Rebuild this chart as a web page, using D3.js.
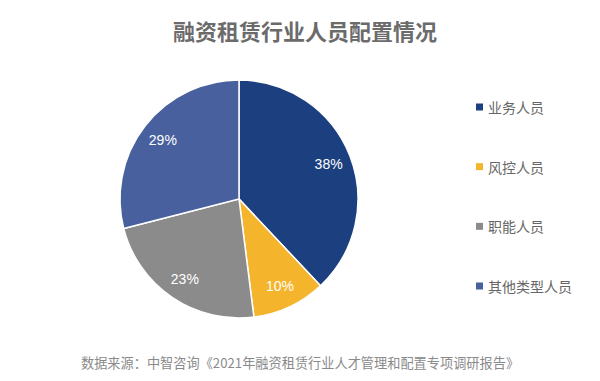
<!DOCTYPE html>
<html>
<head>
<meta charset="utf-8">
<script src="https://cdn.jsdelivr.net/npm/d3@7"></script>
<style>
	body { margin: 0; background: #fff; }
	svg { display: block; font-family: "Noto Sans CJK SC", "Noto Sans", sans-serif; }
</style>
</head>
<body>
<svg id="chart" width="600" height="381"></svg>
<script>
// Data
const categories = ['业务人员', '风控人员', '职能人员', '其他类型人员']
const shares = [38, 10, 23, 29]
const colors = ['#1c3f7f', '#f4b42c', '#8b8b8b', '#48619e']

const title = '融资租赁行业人员配置情况'
const source = '数据来源：中智咨询《2021年融资租赁行业人才管理和配置专项调研报告》'

;(function() {
	let svg = d3.select('#chart')
	const cx = 239, cy = 199, radius = 119

	// Title
	svg.append('text')
		.attr('x', 305)
		.attr('y', 40)
		.attr('text-anchor', 'middle')
		.attr('font-size', 22)
		.attr('font-weight', 'bold')
		.attr('fill', '#6b6b6b')
		.text(title)

	// Pie
	let pie = d3.pie().sort(null).value(d => d)
	let arcs = pie(shares)
	let arc = d3.arc().innerRadius(0).outerRadius(radius)
	let labelArc = d3.arc().innerRadius(radius * 0.81).outerRadius(radius * 0.81)

	let g = svg.append('g').attr('transform', `translate(${cx}, ${cy})`)
	g.selectAll('path')
		.data(arcs)
		.join('path')
		.attr('d', arc)
		.attr('fill', (d, i) => colors[i])
		.attr('stroke', '#fff')
		.attr('stroke-width', 1.5)

	g.selectAll('text')
		.data(arcs)
		.join('text')
		.attr('transform', d => `translate(${labelArc.centroid(d)})`)
		.attr('text-anchor', 'middle')
		.attr('dominant-baseline', 'central')
		.attr('font-size', 14)
		.attr('fill', '#fff')
		.attr('font-family', 'Arial, "Liberation Sans", sans-serif')
		.text(d => d.data + '%')

	// Legend
	let legendY = d3.scalePoint()
		.domain(categories)
		.range([107, 286])

	let legend = svg.append('g')
	categories.forEach((c, i) => {
		legend.append('rect')
			.attr('x', 476)
			.attr('y', legendY(c) - 3.5)
			.attr('width', 7)
			.attr('height', 7)
			.attr('fill', colors[i])
		legend.append('text')
			.attr('x', 488)
			.attr('y', legendY(c))
			.attr('dominant-baseline', 'central')
			.attr('font-size', 14)
			.attr('fill', '#666')
			.text(c)
	})

	// Source note
	svg.append('text')
		.attr('x', 81)
		.attr('y', 362)
		.attr('dominant-baseline', 'central')
		.attr('font-size', 13.2)
		.attr('fill', '#8a8a8a')
		.text(source)
})();
</script>
</body>
</html>
